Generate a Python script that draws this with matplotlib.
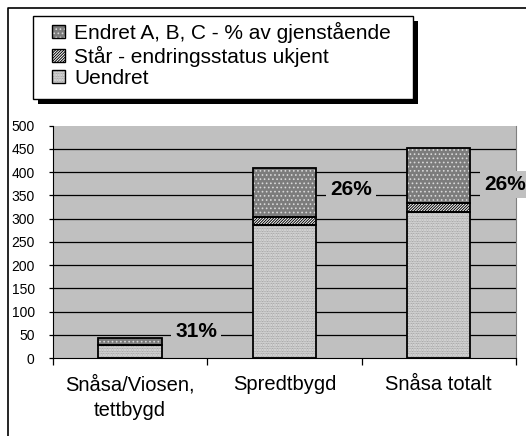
import matplotlib
matplotlib.use("Agg")
import matplotlib.pyplot as plt
from matplotlib.patches import Patch, Rectangle
from matplotlib.lines import Line2D
from matplotlib.legend_handler import HandlerTuple

plt.rcParams['font.family'] = ['Liberation Sans', 'DejaVu Sans']
plt.rcParams['hatch.linewidth'] = 0.7

# Data
categories = ["Snåsa/Viosen,\ntettbygd", "Spredtbygd", "Snåsa totalt"]
uendret = [29, 287, 314]
staar = [0, 17, 20]
endret = [13, 106, 119]
series_names = ["Endret A, B, C - % av gjenstående",
                "Står - endringsstatus ukjent",
                "Uendret"]
yticks = [0, 50, 100, 150, 200, 250, 300, 350, 400, 450, 500]

# Heights at which the percentage labels sit
label_y = [57, 362, 373]

W, H = 526, 436
fig = plt.figure(figsize=(W / 100, H / 100), dpi=100)
fig.patch.set_facecolor("white")

ax = fig.add_axes([52.7 / W, 1 - 358 / H, (516 - 52.7) / W, (358 - 125.7) / H])
ax.set_facecolor("#c0c0c0")
ax.set_xlim(-0.5, 2.5)
ax.set_ylim(0, 500)

for y in yticks[1:-1]:
    ax.axhline(y, color="black", lw=0.9, zorder=1)

x = list(range(len(categories)))
width = 0.41

styles = [
    # (face, hatch, hatch colour)
    ("#ececec", "..........", "#8a8a8a"),   # Uendret
    ("#ffffff", "////////////", "#000000"),  # Står
    ("#7c7c7c", "....", "#d8d8d8"),          # Endret
]

bottoms = [0] * len(x)
handles = []
for vals, (fc, hatch, hc) in zip([uendret, staar, endret], styles):
    ax.bar(x, vals, width, bottom=bottoms, color=fc, edgecolor="none", zorder=2)
    ax.bar(x, vals, width, bottom=bottoms, facecolor="none", edgecolor=hc,
           hatch=hatch, linewidth=0, zorder=3)
    ax.bar(x, vals, width, bottom=bottoms, facecolor="none", edgecolor="black",
           linewidth=1.3, zorder=4)
    handles.append((Patch(facecolor=fc, edgecolor="none"),
                    Patch(facecolor="none", edgecolor=hc, hatch=hatch, linewidth=0),
                    Patch(facecolor="none", edgecolor="black", linewidth=1.0)))
    bottoms = [b + v for b, v in zip(bottoms, vals)]

# Percentage of the remaining stock that has changed
for i in x:
    total = uendret[i] + staar[i] + endret[i]
    pct = round(100 * endret[i] / total)
    ax.text(i + 0.43, label_y[i], f"{pct}%", ha="center", va="center",
            fontsize=15, fontweight="bold", zorder=5,
            bbox=dict(boxstyle="square,pad=0.2", facecolor="#c0c0c0", edgecolor="none"))

# Axes styling
ax.spines["top"].set_visible(False)
ax.spines["right"].set_color("#808080")
ax.spines["left"].set_color("black")
ax.spines["bottom"].set_color("black")
ax.spines["bottom"].set_zorder(6)

ax.set_yticks(yticks)
ax.tick_params(axis="y", direction="out", length=3, width=0.9, pad=10, labelsize=10)
ax.set_xticks(x)
ax.set_xticklabels(categories, fontsize=14.5, linespacing=1.45)
ax.tick_params(axis="x", which="major", length=0, pad=12)
ax.set_xticks([-0.5, 0.5, 1.5, 2.5], minor=True)
ax.tick_params(axis="x", which="minor", direction="out", length=5, width=0.9)

# Legend with framed box and drop shadow
lx0, ly0, lx1, ly1 = 33, 15.7, 413, 99
shadow = Rectangle(((lx0 + 5) / W, 1 - (ly1 + 5) / H), (lx1 - lx0) / W, (ly1 - ly0) / H,
                   transform=fig.transFigure, facecolor="black", edgecolor="none", zorder=8)
frame = Rectangle((lx0 / W, 1 - ly1 / H), (lx1 - lx0) / W, (ly1 - ly0) / H,
                  transform=fig.transFigure, facecolor="white", edgecolor="black",
                  linewidth=1.0, zorder=9)
fig.add_artist(shadow)
fig.add_artist(frame)

leg = fig.legend(handles[::-1], series_names, loc="upper left",
                 bbox_to_anchor=(52 / W, 1 - 22 / H), bbox_transform=fig.transFigure,
                 frameon=False, fontsize=15, borderpad=0, borderaxespad=0,
                 handlelength=0.6, handleheight=0.6, handletextpad=0.45,
                 labelspacing=0.12, handler_map={tuple: HandlerTuple(ndivide=1)})
leg.set_zorder(10)

# Outer chart border (left and top edges)
fig.add_artist(Line2D([8 / W, 8 / W, 1], [0, 1 - 8 / H, 1 - 8 / H],
                      transform=fig.transFigure, color="black", lw=1.2))

fig.savefig("out.png", dpi=100)
